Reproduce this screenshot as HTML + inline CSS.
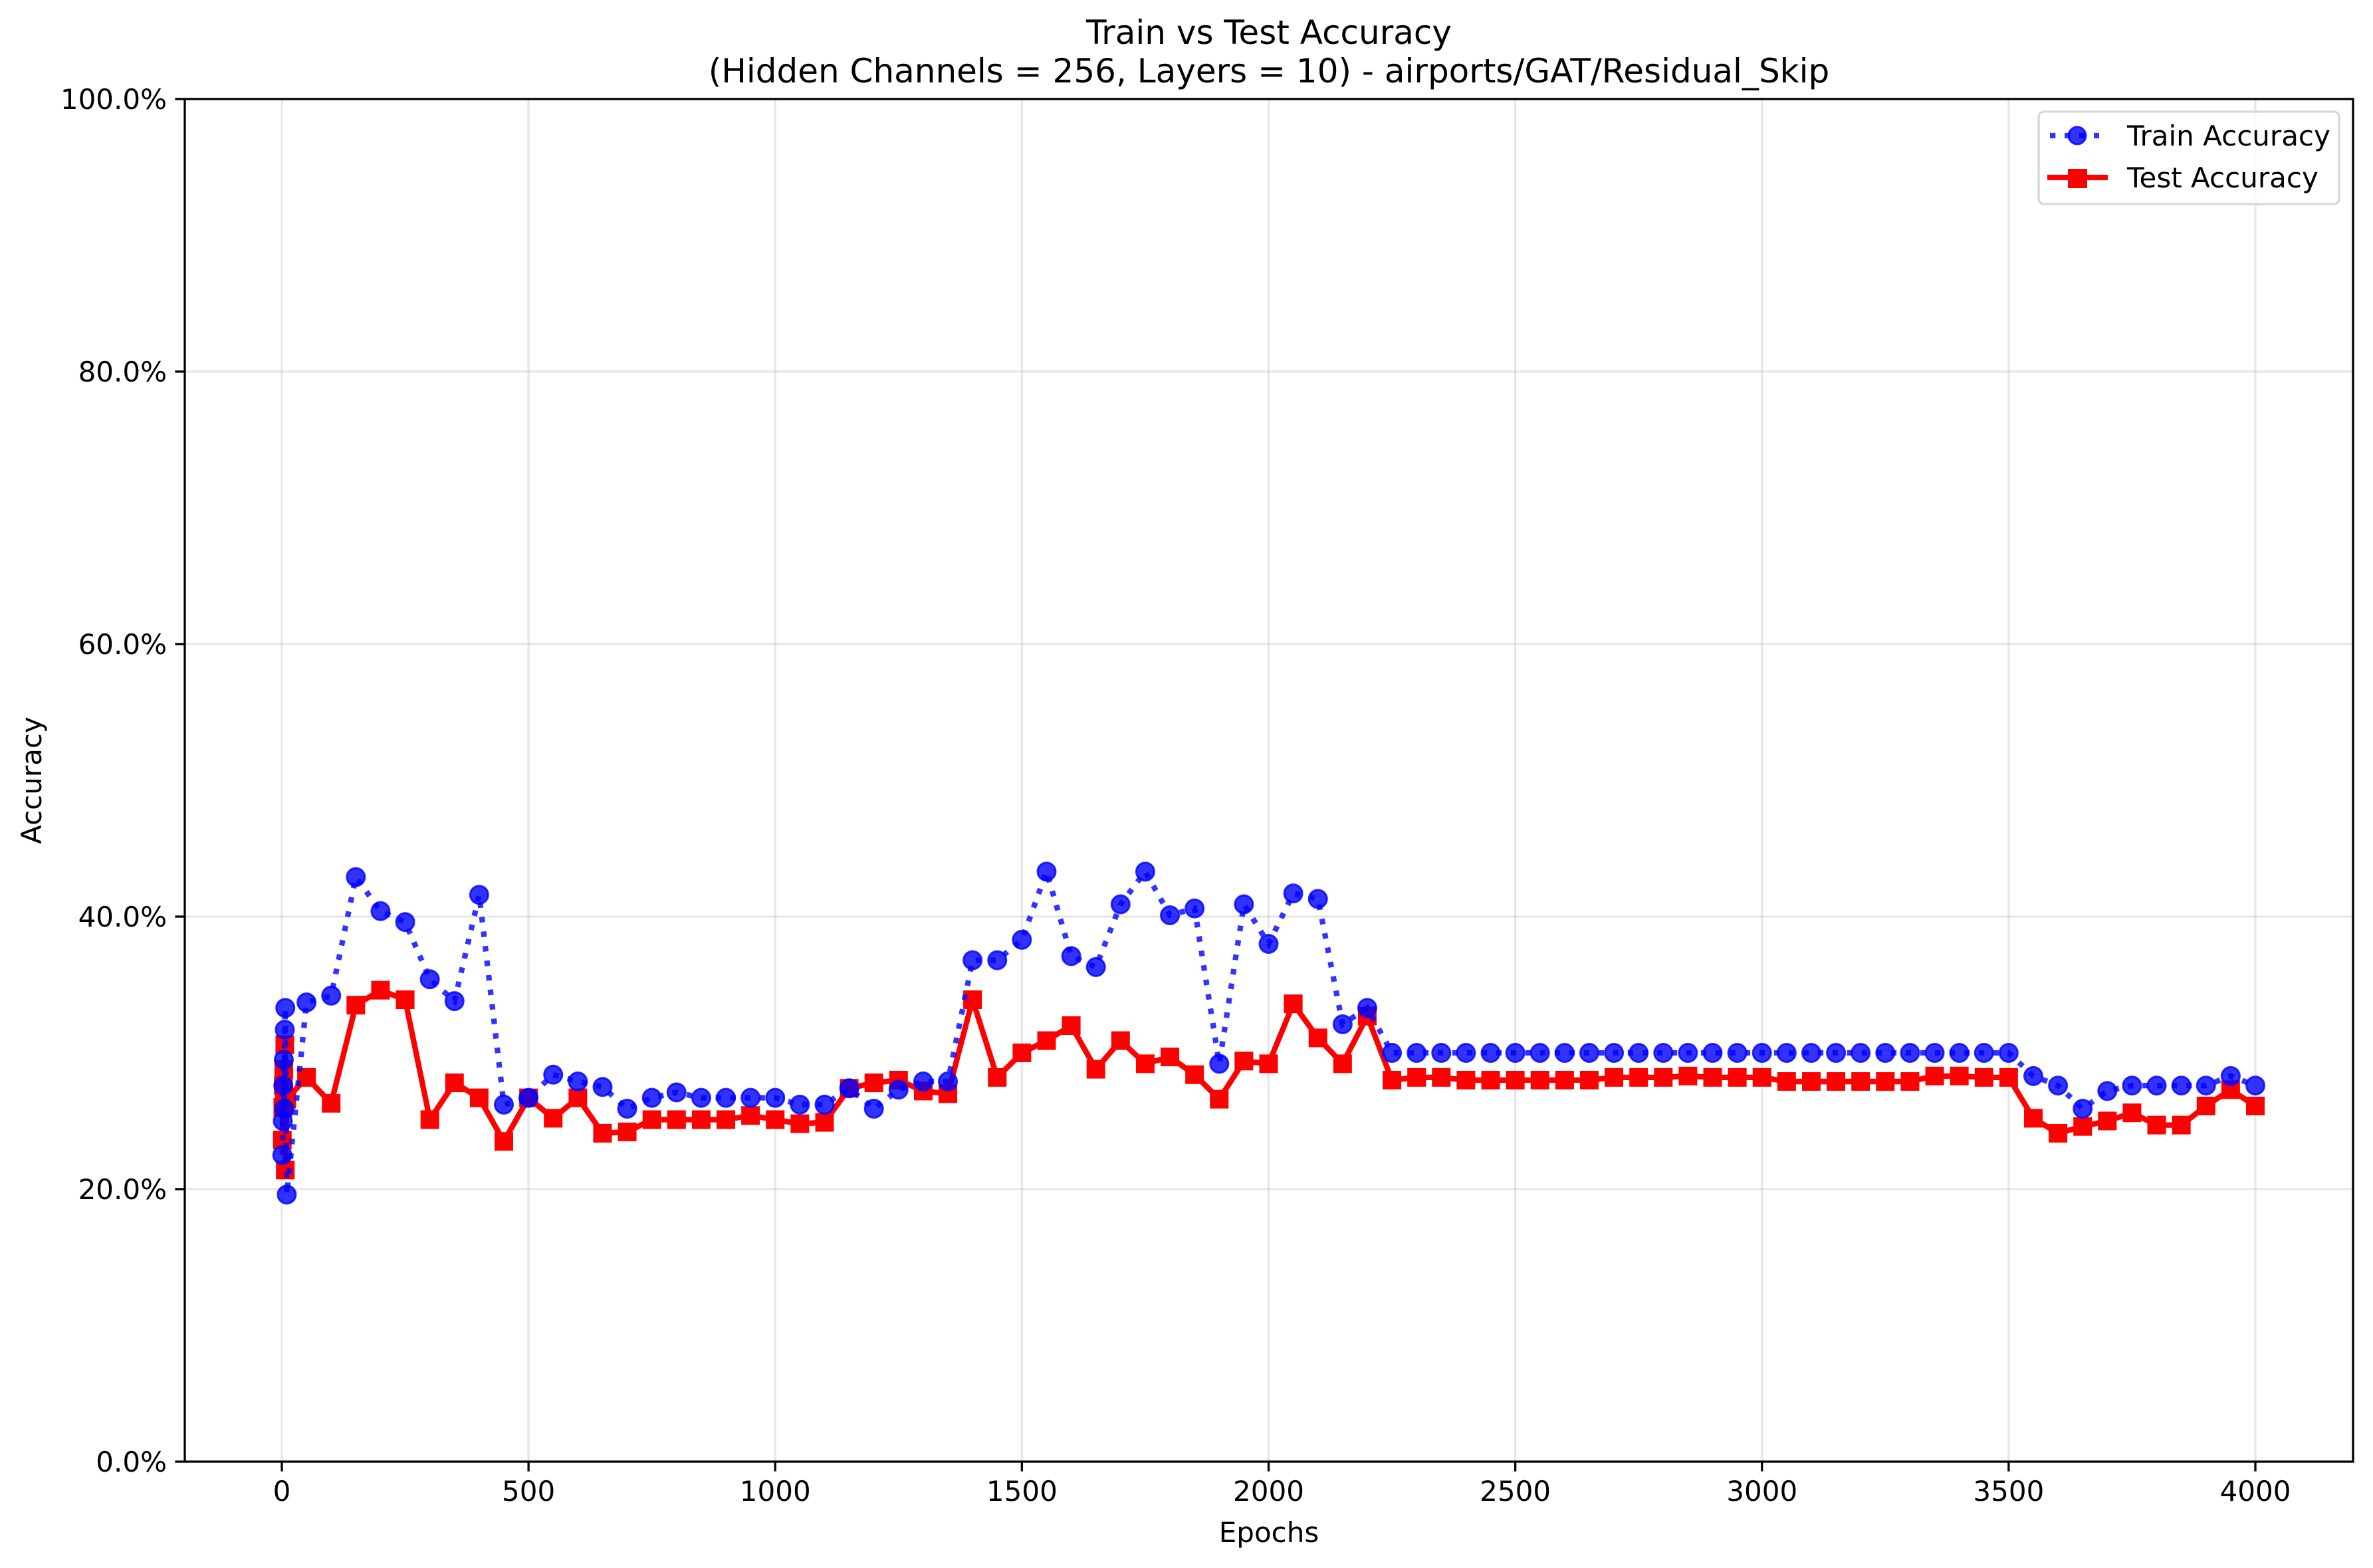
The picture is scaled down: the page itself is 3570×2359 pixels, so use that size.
<!DOCTYPE html>
<html><head><meta charset="utf-8">
<style>
html,body{margin:0;padding:0;background:#fff;}
svg{display:block;font-family:"DejaVu Sans","Liberation Sans",sans-serif;}
</style></head>
<body>
<svg id="chart" width="3570" height="2359" viewBox="0 0 3570 2359" xmlns="http://www.w3.org/2000/svg">
<rect width="3570" height="2359" fill="#fff"/>
<g id="grid"></g>
<g id="series"></g>
<g id="axes"></g>
<text x="1909" y="66" font-size="50" text-anchor="middle">Train vs Test Accuracy</text>
<text x="1909" y="124" font-size="50" text-anchor="middle">(Hidden Channels = 256, Layers = 10) - airports/GAT/Residual_Skip</text>
<text x="1909" y="2320" font-size="42" text-anchor="middle">Epochs</text>
<text x="0" y="0" font-size="42" text-anchor="middle" transform="translate(62,1174) rotate(-90)">Accuracy</text>
<g>
<rect x="3067" y="168" width="452" height="139" rx="8" fill="#fff" fill-opacity="0.8" stroke="#d6d6d6" stroke-width="3.3"/>
<g>
<line x1="3084" y1="204" x2="3158" y2="204" stroke="#0000ff" stroke-opacity="0.8" stroke-width="8.3" stroke-dasharray="8.3,13.7"/>
<circle cx="3125" cy="204" r="13" fill="#0000ff" fill-opacity="0.8" stroke="#0000ff" stroke-opacity="0.8" stroke-width="3"/>
<text x="3200" y="219" font-size="42">Train Accuracy</text>
</g>
<g>
<line x1="3080" y1="267" x2="3171" y2="267" stroke="#ff0000" stroke-width="8.3"/>
<rect x="3111" y="254" width="29" height="29" fill="#ff0000"/>
<text x="3200" y="282" font-size="42">Test Accuracy</text>
</g>
</g>
</svg>
<script>
const epochs = [1,2,3,4,5,6,7,10,50,100,150,200,250,300,350,400,450,500,550,600,650,700,750,800,850,900,950,1000,1050,1100,1150,1200,1250,1300,1350,1400,1450,1500,1550,1600,1650,1700,1750,1800,1850,1900,1950,2000,2050,2100,2150,2200,2250,2300,2350,2400,2450,2500,2550,2600,2650,2700,2750,2800,2850,2900,2950,3000,3050,3100,3150,3200,3250,3300,3350,3400,3450,3500,3550,3600,3650,3700,3750,3800,3850,3900,3950,4000];
const trainAcc = [22.5,25.0,27.6,29.5,25.9,31.7,33.3,19.6,33.7,34.2,42.9,40.4,39.6,35.4,33.8,41.6,26.2,26.7,28.4,27.9,27.5,25.9,26.7,27.1,26.7,26.7,26.7,26.7,26.2,26.2,27.4,25.9,27.3,27.9,27.9,36.8,36.8,38.3,43.3,37.1,36.3,40.9,43.3,40.1,40.6,29.2,40.9,38.0,41.7,41.3,32.1,33.3,30.0,30.0,30.0,30.0,30.0,30.0,30.0,30.0,30.0,30.0,30.0,30.0,30.0,30.0,30.0,30.0,30.0,30.0,30.0,30.0,30.0,30.0,30.0,30.0,30.0,30.0,28.3,27.6,25.9,27.2,27.6,27.6,27.6,27.6,28.3,27.6];
const testAcc = [23.6,26.0,27.6,28.8,26.6,30.6,21.4,26.6,28.2,26.3,33.5,34.6,33.9,25.1,27.8,26.7,23.5,26.7,25.2,26.7,24.1,24.2,25.1,25.1,25.1,25.1,25.4,25.1,24.8,24.9,27.4,27.8,28.0,27.2,27.0,33.9,28.2,30.0,30.9,32.0,28.8,30.9,29.2,29.7,28.4,26.6,29.4,29.2,33.6,31.1,29.2,32.7,28.0,28.2,28.2,28.0,28.0,28.0,28.0,28.0,28.0,28.2,28.2,28.2,28.3,28.2,28.2,28.2,27.9,27.9,27.9,27.9,27.9,27.9,28.3,28.3,28.2,28.2,25.2,24.1,24.6,25.0,25.6,24.7,24.7,26.1,27.3,26.1];
const xTicks = [0,500,1000,1500,2000,2500,3000,3500,4000];
const yTicks = [0,20,40,60,80,100];

const NS = "http://www.w3.org/2000/svg";
const L = 278, R = 3540, T = 149, B = 2199;
function xs(e){ return 424 + e * (3393 - 424) / 4000; }
function ys(p){ return B - p * (B - T) / 100; }
function mk(tag, attrs, parent){ const el = document.createElementNS(NS, tag); for (const k in attrs) el.setAttribute(k, attrs[k]); parent.appendChild(el); return el; }

const grid = document.getElementById('grid');
const axes = document.getElementById('axes');
const series = document.getElementById('series');

xTicks.forEach(t => {
  const g = mk('line', {x1: xs(t), x2: xs(t), y1: T, y2: B, stroke: '#b0b0b0', 'stroke-opacity': 0.3, 'stroke-width': 3.3}, grid);
  
  
  const tk = mk('line', {x1: xs(t), x2: xs(t), y1: B, y2: B + 14.6, stroke: '#000', 'stroke-width': 3.3}, axes);
  
  
  const tx = mk('text', {x: xs(t), y: B + 59, 'font-size': 42, 'text-anchor': 'middle'}, axes);
  tx.textContent = String(t);
  
  
});
yTicks.forEach(t => {
  const g = mk('line', {x1: L, x2: R, y1: ys(t), y2: ys(t), stroke: '#b0b0b0', 'stroke-opacity': 0.3, 'stroke-width': 3.3}, grid);
  
  
  const tk = mk('line', {x1: L - 14.6, x2: L, y1: ys(t), y2: ys(t), stroke: '#000', 'stroke-width': 3.3}, axes);
  
  
  const tx = mk('text', {x: L - 27, y: ys(t) + 15, 'font-size': 42, 'text-anchor': 'end'}, axes);
  tx.textContent = t.toFixed(1) + '%';
  
  
});
const frame = mk('rect', {x: L, y: T, width: R - L, height: B - T, fill: 'none', stroke: '#000', 'stroke-width': 3.3}, axes);



// test series
const testPts = epochs.map((e, i) => xs(e) + ',' + ys(testAcc[i])).join(' ');
const testLine = mk('polyline', {points: testPts, fill: 'none', stroke: '#ff0000', 'stroke-width': 8.3, 'stroke-linejoin': 'round'}, series);


epochs.forEach((e, i) => {
  const s = mk('rect', {x: xs(e) - 14, y: ys(testAcc[i]) - 14, width: 28, height: 28, fill: '#ff0000'}, series);
  
  
});
// train series
const trainPts = epochs.map((e, i) => xs(e) + ',' + ys(trainAcc[i])).join(' ');
const trainLine = mk('polyline', {points: trainPts, fill: 'none', stroke: '#0000ff', 'stroke-opacity': 0.8, 'stroke-width': 8.3, 'stroke-dasharray': '8.3,13.7'}, series);


epochs.forEach((e, i) => {
  const c = mk('circle', {cx: xs(e), cy: ys(trainAcc[i]), r: 13.5, fill: '#0000ff', 'fill-opacity': 0.8, stroke: '#0000ff', 'stroke-opacity': 0.8, 'stroke-width': 3}, series);
  
  
});
</script>
</body></html>
